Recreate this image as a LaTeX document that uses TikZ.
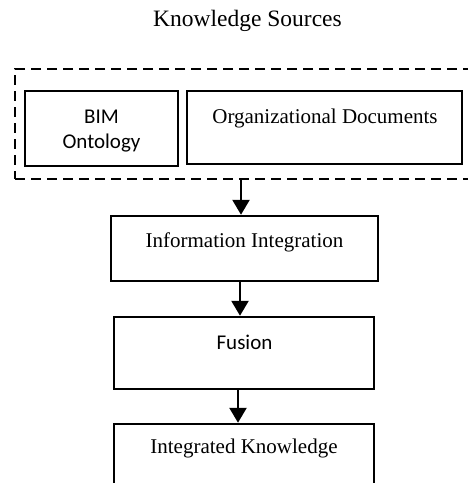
\documentclass[tikz,border=0pt]{standalone}
\usepackage{fontspec}
\setmainfont{Liberation Serif}
\newfontfamily\calib{Carlito}
\usetikzlibrary{arrows.meta}

\tikzset{
  box/.style={draw=black, line width=2.5pt, fill=white, inner sep=0pt},
  srcframe/.style={draw=black, line width=2.5pt, dash pattern=on 10pt off 6pt, inner sep=0pt},
  flow/.style={draw=black, line width=2.5pt, -{Triangle[width=17pt,length=15pt]}},
  serif/.style={font=\fontsize{21}{25}\selectfont, inner sep=0pt, anchor=base},
  sans/.style={font=\calib\fontsize{21}{25}\selectfont, inner sep=0pt, anchor=base, align=center},
}

\begin{document}
\begin{tikzpicture}[x=1pt, y=-1pt]
  \useasboundingbox (0,0) rectangle (468,483);
  \clip (0,0) rectangle (468,483);

  % heading
  \node[serif, font=\fontsize{23.5}{28}\selectfont] (title) at (247.5,26) {Knowledge Sources};

  % knowledge sources group
  \node[srcframe, minimum width=470pt, minimum height=110pt] (src) at (250,124) {};
  \node[box, minimum width=153pt, minimum height=75pt] (bim) at (101.5,128.5) {};
  \node[box, minimum width=275pt, minimum height=73pt] (org) at (324.5,127.5) {};
  \node[sans] (bimA) at (101.5,123) {BIM};
  \node[sans] (bimB) at (101.5,148) {Ontology};
  \node[serif] (orgT) at (325,123) {Organizational Documents};

  % processing chain
  \node[box, minimum width=267pt, minimum height=65pt] (info) at (244.5,248.5) {};
  \node[serif] (infoT) at (244.5,247) {Information Integration};

  \node[box, minimum width=260pt, minimum height=72pt] (fus) at (244,353) {};
  \node[sans] (fusT) at (244.5,349) {Fusion};

  \node[box, minimum width=260pt, minimum height=100pt] (ik) at (244,474) {};
  \node[serif] (ikT) at (244,453) {Integrated Knowledge};

  % arrows
  \draw[flow] ([xshift=-3.5pt]info.north |- src.south) -- ([xshift=-3.5pt]info.north);
  \draw[flow] ([xshift=-4.5pt]info.south) -- ([xshift=-4pt]fus.north);
  \draw[flow] ([xshift=-6pt]fus.south) -- ([xshift=-6pt]ik.north);
\end{tikzpicture}
\end{document}
